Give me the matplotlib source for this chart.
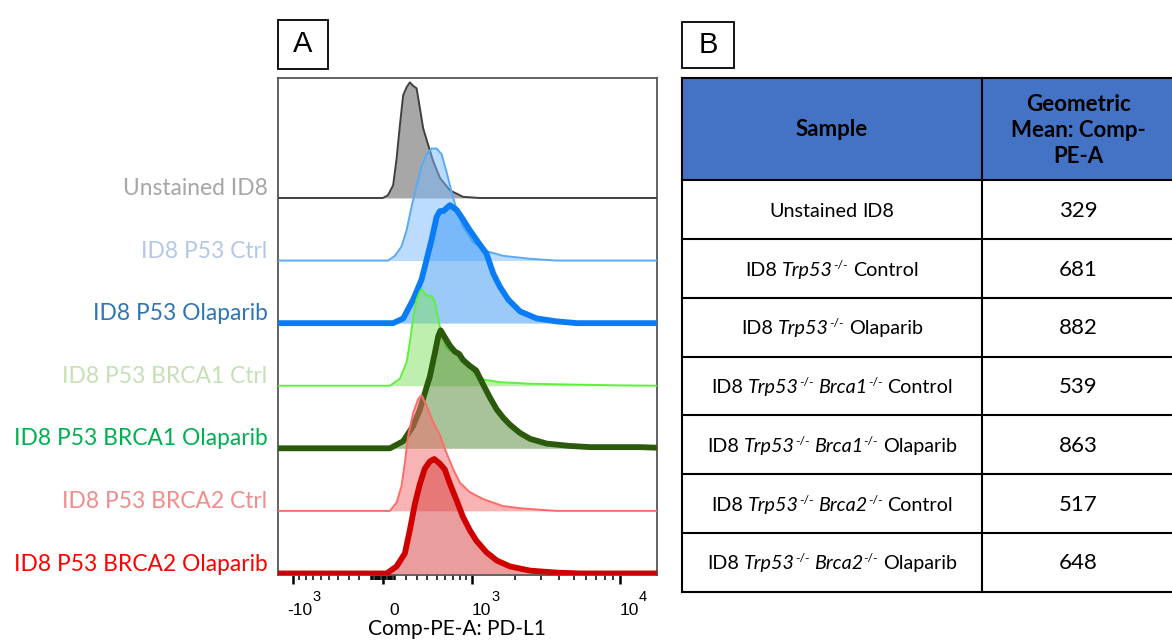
import matplotlib
matplotlib.use("Agg")
import matplotlib.pyplot as plt
from matplotlib.patches import Rectangle
from matplotlib.ticker import FixedLocator, NullFormatter
from matplotlib.transforms import blended_transform_factory, ScaledTranslation

plt.rcParams["font.family"] = ["Lato", "DejaVu Sans"]

# ---- panel A: offset histograms (x in PE-A units, height in % of mode) ----
sample_labels = ["Unstained ID8", "ID8 P53 Ctrl", "ID8 P53 Olaparib", "ID8 P53 BRCA1 Ctrl",
                 "ID8 P53 BRCA1 Olaparib", "ID8 P53 BRCA2 Ctrl", "ID8 P53 BRCA2 Olaparib"]

unstained_x = [-1300, 0, 42, 86, 115, 144, 172, 203, 232, 262, 294, 326, 358, 409, 463, 539, 662, 846,
               1125, 17700]
unstained_h = [0, 0, 2.3, 10.8, 33, 62, 87, 94, 98, 95, 93, 76, 59, 45, 31, 17, 6.5, 1, 0, 0]

p53_ctrl_x = [-1300, 44, 101, 158, 203, 248, 294, 342, 393, 446, 500, 559, 619, 685, 753, 846, 1008,
              1268, 1665, 2545, 3830, 17700]
p53_ctrl_h = [0, 0, 4, 12, 26, 46, 63, 80, 90, 95, 95, 90, 75, 58, 43, 29, 16, 8, 4, 1.5, 0, 0]

p53_olap_x = [-1300, 86, 172, 262, 342, 393, 446, 500, 539, 578, 662, 753, 846, 953, 1098, 1268, 1420,
              1577, 1804, 2172, 2816, 3830, 5210, 17700]
p53_olap_h = [0, 0, 4, 20, 37, 54, 71, 90, 95, 95, 100, 96, 88, 79, 69, 59, 42, 31, 20, 10, 4, 1.5, 0, 0]

brca1_ctrl_x = [-1300, 59, 144, 203, 232, 262, 294, 326, 342, 375, 409, 446, 481, 519, 559, 619, 704,
                799, 904, 1036, 1235, 1577, 2545, 4690, 10060, 17700]
brca1_ctrl_h = [0, 0, 6, 20, 37, 57, 73, 80, 82, 78, 76, 76, 71, 57, 42, 32, 28, 24, 19, 10, 5, 3, 1.7,
                1, 0.3, 0]

brca1_olap_x = [-1300, 59, 172, 262, 326, 375, 427, 481, 519, 547, 598, 662, 729, 790, 846, 953, 1067,
                1202, 1344, 1500, 1665, 1854, 2172, 2545, 3285, 4690, 6390, 13640, 17700]
brca1_olap_h = [0, 0, 6, 19, 33, 47, 61, 81, 95, 100, 94, 87, 82, 80, 75, 70, 66, 54, 43, 33, 26, 20,
                13, 8, 4, 2, 1, 1, 0.5]

brca2_ctrl_x = [-1300, 59, 115, 158, 187, 217, 262, 310, 342, 393, 463, 539, 619, 708, 799, 953, 1202,
                1665, 2285, 3830, 17700]
brca2_ctrl_h = [0, 0, 7, 21, 41, 64, 83, 95, 98, 89, 75, 64, 49, 35, 24, 16, 10, 4, 2, 0, 0]

brca2_olap_x = [-1300, 31, 115, 187, 232, 278, 326, 375, 427, 474, 539, 598, 662, 753, 846, 953, 1067,
                1268, 1500, 1854, 2545, 3830, 5480, 17700]
brca2_olap_h = [0, 0, 6, 17, 37, 59, 76, 89, 95, 97, 93, 88, 76, 62, 48, 37, 28, 18, 11, 6, 2.4, 0.7,
                0, 0]

curves = [(unstained_x, unstained_h), (p53_ctrl_x, p53_ctrl_h), (p53_olap_x, p53_olap_h),
          (brca1_ctrl_x, brca1_ctrl_h), (brca1_olap_x, brca1_olap_h),
          (brca2_ctrl_x, brca2_ctrl_h), (brca2_olap_x, brca2_olap_h)]

label_colors = ["#a6a6a6", "#b4c7e7", "#2e75b6", "#c5e0b4", "#00b050", "#f08c8c", "#ff0000"]
line_colors = ["#404040", "#5aaaf5", "#0a7cf5", "#5ef03c", "#2b5a0c", "#ff6b6b", "#d10000"]
fill_colors = ["#515151", "#79b9ff", "#3997f5", "#81e161", "#538735", "#f36b6b", "#d73d3d"]
line_widths = [1.4, 1.4, 4.2, 1.4, 4.2, 1.4, 4.2]

tick_values = [-1000, 0, 1000, 10000]
tick_bases = ["-10", "0", "10", "10"]
tick_exps = ["3", "", "3", "4"]
minor_ticks = ([-v for v in range(100, 1000, 100)] + [-v for v in range(10, 100, 10)]
               + list(range(10, 100, 10)) + list(range(100, 1000, 100)) + list(range(2000, 10000, 1000)))

# ---- panel B: table ----
table_header = ["Sample", "Geometric\nMean: Comp-\nPE-A"]
table_samples = ["Unstained ID8",
                 "ID8 Trp53-/- Control",
                 "ID8 Trp53-/- Olaparib",
                 "ID8 Trp53-/- Brca1-/- Control",
                 "ID8 Trp53-/- Brca1-/- Olaparib",
                 "ID8 Trp53-/- Brca2-/- Control",
                 "ID8 Trp53-/- Brca2-/- Olaparib"]
geo_means = [329, 681, 882, 539, 863, 517, 648]

W, H = 1172, 643
fig = plt.figure(figsize=(W / 100, H / 100), dpi=100)
renderer = fig.canvas.get_renderer()


def fig_rect(x0, y0, x1, y1):
    # pixel box (top-left origin) -> figure fraction rect
    return [x0 / W, 1 - y1 / H, (x1 - x0) / W, (y1 - y0) / H]


def px_shift(dx):
    return ScaledTranslation(dx / 100, 0, fig.dpi_scale_trans)


# histogram axes
ax = fig.add_axes(fig_rect(278, 78, 657, 575))
ax.set_xscale("asinh", linear_width=550)
ax.set_xlim(-1297, 17680)
step = 53.05
n = len(curves)
ax.set_ylim(-1.3, 420)

for i, (xs, hs) in enumerate(curves):
    base = (n - 1 - i) * step
    ys = [base + h for h in hs]
    ax.fill_between(xs, base, ys, color=fill_colors[i], alpha=0.5, lw=0, zorder=2 + 2 * i)
    ax.plot(xs, ys, color=line_colors[i], lw=line_widths[i], solid_joinstyle="round",
            solid_capstyle="butt", zorder=3 + 2 * i)

trans = blended_transform_factory(ax.transAxes, ax.transData)
for i, lab in enumerate(sample_labels):
    base = (n - 1 - i) * step
    ax.text(-0.028, base + 8, lab, transform=trans, ha="right", va="center",
            fontsize=16.4, color=label_colors[i])

ax.set_yticks([])
ax.xaxis.set_major_locator(FixedLocator(tick_values))
ax.xaxis.set_major_formatter(NullFormatter())
ax.xaxis.set_minor_locator(FixedLocator(minor_ticks))
ax.xaxis.set_minor_formatter(NullFormatter())
ax.tick_params(axis="x", which="major", direction="out", length=6.5, width=1.8)
ax.tick_params(axis="x", which="minor", direction="out", length=3.8, width=1.1)

# tick labels as base + raised exponent (flow cytometry style)
xtrans = blended_transform_factory(ax.transData, ax.transAxes)
for v, b, e in zip(tick_values, tick_bases, tick_exps):
    if e:
        ax.text(v, -0.08, b, transform=xtrans + px_shift(19), ha="right", va="baseline",
                fontsize=12.5, family="Liberation Sans", clip_on=False)
        ax.text(v, -0.053, e, transform=xtrans + px_shift(19.5), ha="left", va="baseline",
                fontsize=10.5, family="Liberation Sans", clip_on=False)
    else:
        ax.text(v, -0.08, b, transform=xtrans + px_shift(11), ha="center", va="baseline",
                fontsize=12.5, family="Liberation Sans", clip_on=False)

for sp in ax.spines.values():
    sp.set_color("#555555")
    sp.set_linewidth(1.3)
ax.set_xlabel("Comp-PE-A: PD-L1", fontsize=15)
ax.xaxis.set_label_coords(0.472, -0.088)
ax.xaxis.label.set_va("top")

# panel letters
for letter, (x0, y0, x1, y1) in [("A", (278, 20, 328, 69)), ("B", (682, 22, 734, 68))]:
    fig.add_artist(Rectangle((x0 / W, 1 - y1 / H), (x1 - x0) / W, (y1 - y0) / H,
                             transform=fig.transFigure, fill=False, lw=1.3, edgecolor="black"))
    fig.text((x0 + x1) / 2 / W, 1 - (y0 + y1) / 2 / H, letter, ha="center", va="center",
             fontsize=21, family="Liberation Sans")

# table axes (1 unit = 1 pixel, y downward)
tab = fig.add_axes(fig_rect(682, 78.3, 1175, 591.7))
tab_w, tab_h = 493, 513.4
col_split = 300
head_h = 102
row_h = (tab_h - head_h) / len(table_samples)
tab.set_xlim(0, tab_w)
tab.set_ylim(tab_h, 0)
tab.axis("off")

tab.add_patch(Rectangle((0, 0), tab_w, head_h, facecolor="#4472c4", edgecolor="none"))
tab.text(col_split / 2, head_h / 2, table_header[0], ha="center", va="center",
         fontsize=16, fontweight="bold")
tab.text((col_split + tab_w) / 2, head_h / 2 + 1, table_header[1], ha="center", va="center",
         fontsize=16, fontweight="bold", linespacing=1.3)


def text_width(s, **kw):
    t = tab.text(0, 0, s, **kw)
    w = t.get_window_extent(renderer).width
    t.remove()
    return w


def rich_row(xc, yb, s, size):
    # gene names ending in "-/-" -> italic name + superscript genotype
    pieces = []
    for k, word in enumerate(s.split(" ")):
        if k:
            pieces.append((" ", "normal", False))
        if word.endswith("-/-"):
            pieces.append((word[:-3], "italic", False))
            pieces.append(("-/-", "normal", True))
        else:
            pieces.append((word, "normal", False))
    space_w = text_width("I I", fontsize=size) - text_width("II", fontsize=size)
    widths = []
    for txt, style, sup in pieces:
        if txt == " ":
            widths.append(space_w)
        else:
            widths.append(text_width(txt, fontsize=size * (0.62 if sup else 1), style=style))
    x = xc - sum(widths) / 2
    for (txt, style, sup), w in zip(pieces, widths):
        if txt != " ":
            tab.text(x, yb - (7 if sup else 0), txt, ha="left", va="baseline",
                     fontsize=size * (0.62 if sup else 1), style=style)
        x += w


row_size = 14.2
cap = 0.72 * row_size * 100 / 72
for r, (s, v) in enumerate(zip(table_samples, geo_means)):
    yc = head_h + (r + 0.5) * row_h
    rich_row(col_split / 2, yc + cap / 2, s, row_size)
    tab.text((col_split + tab_w) / 2, yc + cap / 2, str(v), ha="center", va="baseline", fontsize=16)

hlines = [0, head_h] + [head_h + (r + 1) * row_h for r in range(len(table_samples))]
for y in hlines:
    tab.plot([0, tab_w], [y, y], color="black", lw=1.5, clip_on=False, solid_capstyle="projecting")
for x in [0, col_split, tab_w]:
    tab.plot([x, x], [0, tab_h], color="black", lw=1.5, clip_on=False, solid_capstyle="projecting")

fig.savefig("out.png", dpi=100)
